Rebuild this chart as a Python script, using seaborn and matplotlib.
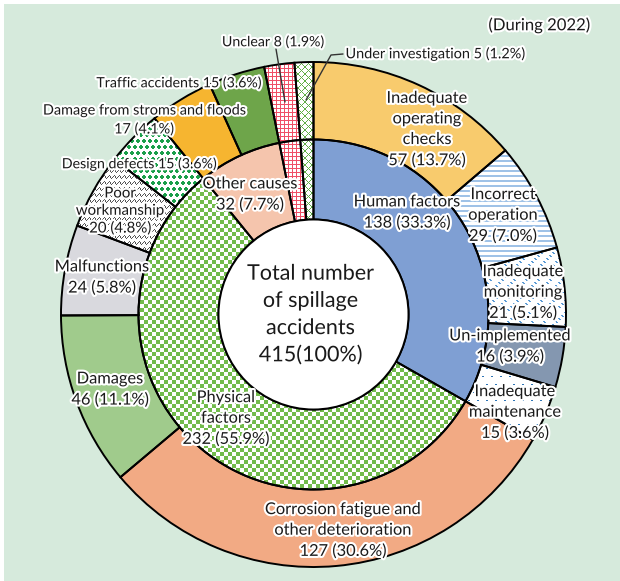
#!/usr/bin/env python3

import numpy as np
import matplotlib
matplotlib.use("Agg")
import matplotlib.pyplot as plt
import matplotlib.patheffects as pe
from matplotlib.colors import to_rgb
from matplotlib.patches import Circle, Rectangle
import seaborn as sns

# inner ring: cause groups, clockwise from 12 o'clock
groups = ["Human factors", "Physical\nfactors", "Other causes", "Unclear", "Under investigation"]
group_counts = [138, 232, 32, 8, 5]

# outer ring: detailed causes in the same order
causes = ["Inadequate\noperating\nchecks", "Incorrect\noperation", "Inadequate\nmonitoring",
          "Un-implemented", "Inadequate\nmaintenance",
          "Corrosion fatigue and\nother deterioration", "Damages", "Malfunctions",
          "Poor\nworkmanship", "Design defects",
          "Damage from stroms and floods", "Traffic accidents",
          "Unclear", "Under investigation"]
cause_counts = [57, 29, 21, 16, 15, 127, 46, 24, 20, 15, 17, 15, 8, 5]

total = sum(group_counts)

# fill colours, or a texture name for patterned slices
group_fill = ["#7f9fd3", "checker", "#f5c5ad", "grid", "diamond"]
cause_fill = ["#f8cb6d", "hstripe", "dash", "#8497b0", "speck", "#f2aa84", "#a0cb8c",
              "#d9d9de", "wave", "dots", "#f6b530", "#6ea54a", "grid", "diamond"]

# label centres in pixels (x, y from top)
inline = {"Design defects", "Traffic accidents", "Unclear", "Under investigation"}
small = {"Design defects": 10.2, "Traffic accidents": 10.2, "Unclear": 10.2,
         "Under investigation": 10.4, "Damage from stroms and floods": 10.4,
         "Poor\nworkmanship": 10.8}
cause_pos = [(427, 130), (503, 216), (523, 293), (510, 347), (515, 413), (343, 531),
             (110, 390), (102, 278), (120, 211), (139, 164), (144, 120), (179, 83),
             (273, 42), (435, 54)]
group_pos = [(407, 213), (226, 419), (250, 195)]

W, H = 620, 581
CX, CY = 313.5, 266.5
R_OUT, R_MID, R_HOLE = 252.5, 175, 95

Y, X = np.mgrid[0:H, 0:W]


def texture(kind):
    img = np.ones((H, W, 3))
    if kind == "checker":
        mask, col = (X // 4 + Y // 4) % 2 == 0, "#72bb4c"
    elif kind == "grid":
        mask, col = (X % 4 == 0) | (Y % 4 == 0), "#ef4f66"
    elif kind == "diamond":
        mask, col = ((X + Y) % 7 == 0) | ((X - Y) % 7 == 0), "#5fae45"
    elif kind == "hstripe":
        mask, col = Y % 5 < 2, "#9fc2e7"
    elif kind == "dash":
        mask, col = ((X - Y) % 6 < 2) & ((X + Y) % 12 < 4), "#5b9bd5"
    elif kind == "speck":
        mask, col = (Y % 8 < 1) & ((X + 4 * (Y // 8 % 2)) % 9 < 2), "#2e75b6"
    elif kind == "wave":
        mask = np.abs(Y % 6 - 2.5 - 1.3 * np.sin(2 * np.pi * X / 5)) < 0.55
        col = "#555555"
    else:  # dots
        xs = (X + 3 * (Y // 6 % 2)) % 6
        mask, col = (xs - 2.5) ** 2 + (Y % 6 - 2.5) ** 2 < 3.2, "#1a9f4a"
    img[mask] = to_rgb(col)
    return img


def ring(ax, counts, radius, width, fills):
    wedges, _ = ax.pie(counts, radius=radius, center=(CX, CY), startangle=90,
                       counterclock=False,
                       colors=[f if f.startswith("#") else "white" for f in fills],
                       wedgeprops=dict(width=width, linewidth=0))
    for w, f in zip(wedges, fills):
        if not f.startswith("#"):
            im = ax.imshow(texture(f), extent=(0, W, 0, H), interpolation="nearest",
                           zorder=1.5)
            im.set_clip_path(w)
    ax.pie(counts, radius=radius, center=(CX, CY), startangle=90, counterclock=False,
           wedgeprops=dict(width=width, facecolor="none", edgecolor="black",
                           linewidth=1.4, zorder=3))


def put(ax, x, y, s, size=11.8, spacing=1.6):
    ax.text(x, H - y, s, ha="center", va="center", fontsize=size, color="#1a1a1a",
            linespacing=spacing, zorder=6,
            path_effects=[pe.withStroke(linewidth=3, foreground="white")])


def label_text(name, n):
    sep = " " if name in inline else "\n"
    return f"{name}{sep}{n} ({n / total * 100:.1f}%)"


sns.set_theme(style="white")
plt.rcParams["font.family"] = ["Lato", "DejaVu Sans"]

fig = plt.figure(figsize=(6.2, 5.81), dpi=100)
fig.patch.set_facecolor("white")
ax = fig.add_axes([0, 0, 1, 1])
ax.add_patch(Rectangle((4, 0), W - 4, H - 4, facecolor="#d6eadc", edgecolor="none",
                       zorder=0))

ring(ax, cause_counts, R_OUT, R_OUT - R_MID, cause_fill)
ring(ax, group_counts, R_MID, R_MID - R_HOLE, group_fill)
ax.add_patch(Circle((CX, CY), R_HOLE, facecolor="white", edgecolor="black",
                    linewidth=1.4, zorder=4))

for name, n, (x, y) in zip(causes, cause_counts, cause_pos):
    sz = small.get(name, 11.8)
    put(ax, x, y, label_text(name, n), size=sz,
        spacing=1.3 if name.startswith("Poor") else 1.6)
for name, n, (x, y) in zip(groups, group_counts, group_pos):
    put(ax, x, y, label_text(name, n))

put(ax, CX - 3, H - CY, f"Total number\nof spillage\naccidents\n{total}(100%)",
    size=15.5, spacing=1.45)
put(ax, 539, 25, "(During 2022)", size=12)

# leader lines for the two thin slices
ax.plot([276, 285], [H - 49, H - 102], color="#333333", lw=1, zorder=5)
ax.plot([343, 331, 306], [H - 54, H - 55, H - 100], color="#333333", lw=1, zorder=5)

ax.set_xlim(0, W)
ax.set_ylim(0, H)
ax.set_aspect("equal")
ax.axis("off")

fig.savefig("out.png", dpi=100)
